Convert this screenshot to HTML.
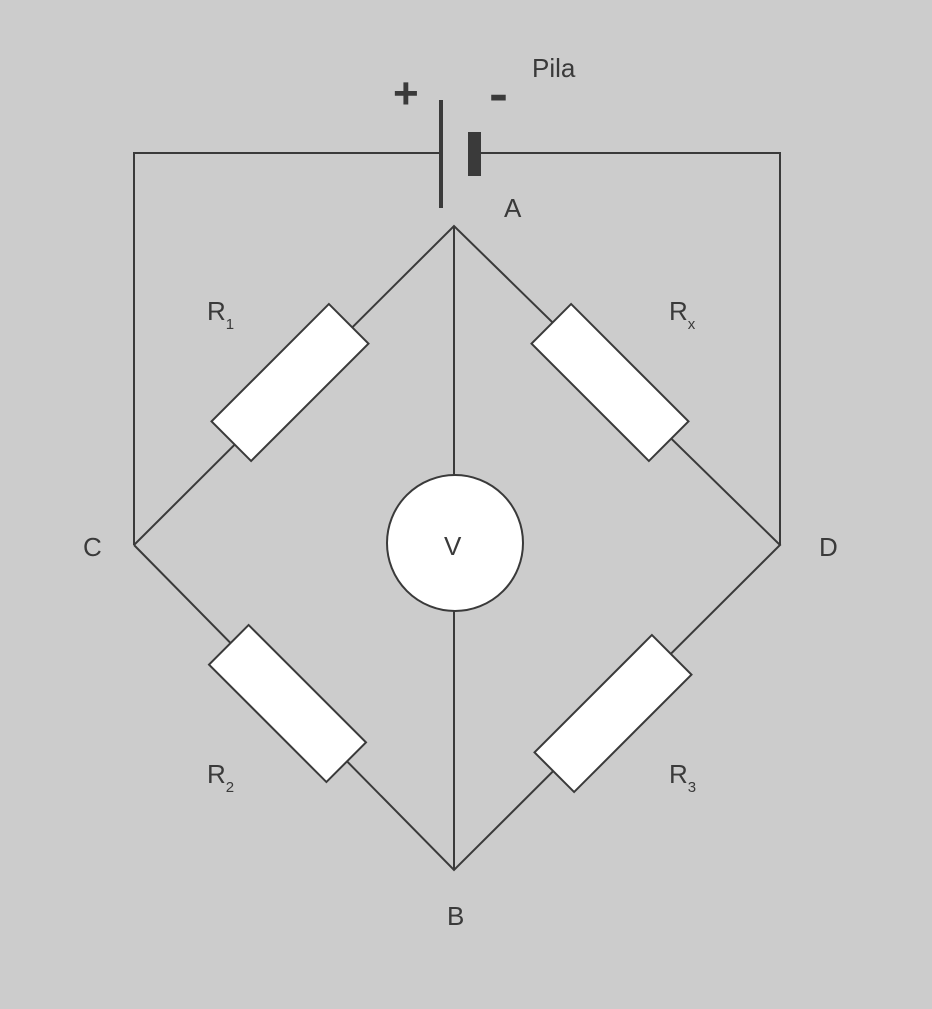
<!DOCTYPE html>
<html><head><style>
html,body{margin:0;padding:0;background:#cccccc;}
svg{display:block;}
text{font-family:"Liberation Sans",sans-serif;fill:#3a3a3a;}
</style></head><body>
<svg width="932" height="1009" viewBox="0 0 932 1009" xmlns="http://www.w3.org/2000/svg">
<rect width="932" height="1009" fill="#cccccc"/>
<g stroke="#3a3a3a" stroke-width="2" fill="none">
<polyline points="441,153 134,153 134,545"/>
<polyline points="478,153 780,153 780,545"/>
<polyline points="134,545 454,226 780,545 454,870 134,545"/>
<line x1="454" y1="226" x2="454" y2="870"/>
</g>
<line x1="441" y1="100" x2="441" y2="208" stroke="#3a3a3a" stroke-width="4"/>
<rect x="468" y="132" width="13" height="44" fill="#3a3a3a"/>
<g fill="#fff" stroke="#3a3a3a" stroke-width="2">
<rect x="-83" y="-28" width="166" height="56" transform="translate(290,382.5) rotate(-45)"/>
<rect x="-83" y="-28" width="166" height="56" transform="translate(610,382.5) rotate(45)"/>
<rect x="-83" y="-28" width="166" height="56" transform="translate(287.5,703.5) rotate(45)"/>
<rect x="-83" y="-28" width="166" height="56" transform="translate(613,713.5) rotate(-45)"/>
<circle cx="455" cy="543" r="68"/>
</g>
<text x="532" y="77" font-size="26">Pila</text>
<text x="393" y="108" font-size="44" font-weight="bold">+</text>
<text x="489" y="110" font-size="48" font-weight="bold" textLength="19" lengthAdjust="spacingAndGlyphs">-</text>
<text x="504" y="217" font-size="26">A</text>
<text x="83" y="556" font-size="26">C</text>
<text x="819" y="556" font-size="26">D</text>
<text x="447" y="925" font-size="26">B</text>
<text x="444" y="555" font-size="26">V</text>
<text x="207" y="320" font-size="26">R<tspan font-size="15" dy="9">1</tspan></text>
<text x="669" y="320" font-size="26">R<tspan font-size="15" dy="9">x</tspan></text>
<text x="207" y="783" font-size="26">R<tspan font-size="15" dy="9">2</tspan></text>
<text x="669" y="783" font-size="26">R<tspan font-size="15" dy="9">3</tspan></text>
</svg>
</body></html>
